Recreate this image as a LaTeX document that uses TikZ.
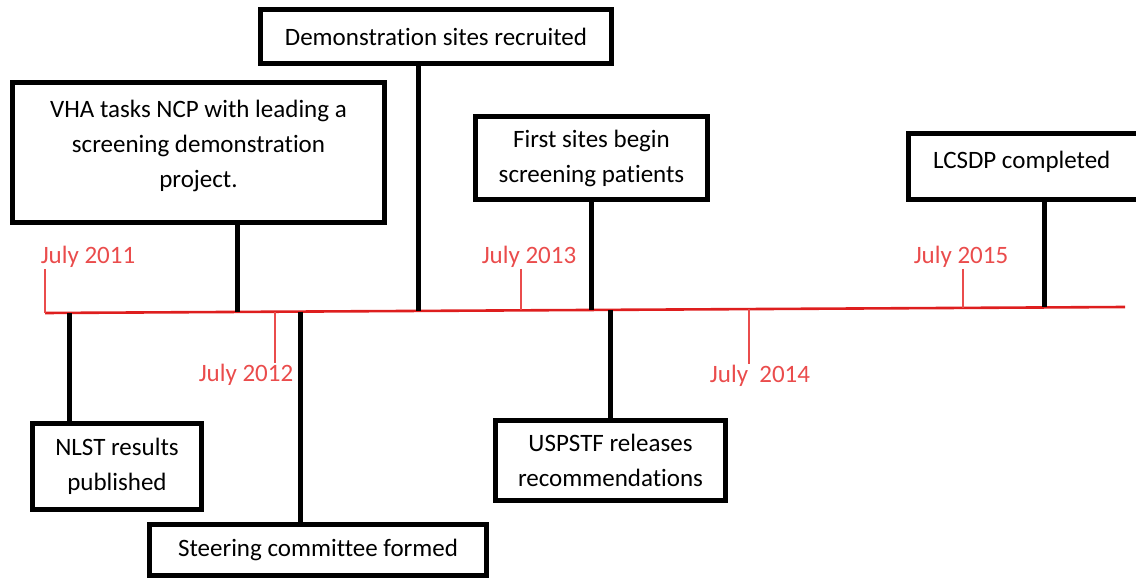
\documentclass[tikz,border=0pt]{standalone}
\usepackage{fontspec}
\setmainfont[Ligatures=NoCommon]{Carlito}
\usetikzlibrary{positioning, calc}

\definecolor{lineRed}{RGB}{222,30,30}
\definecolor{labelRed}{RGB}{234,76,76}

\tikzset{
  event/.style={rectangle, draw, line width=5pt, align=center, inner sep=0pt,
    font=\fontsize{25}{35}\selectfont},
  stem/.style={line width=5pt},
  year/.style={text=labelRed, inner sep=1pt, font=\fontsize{25}{30}\selectfont},
  yeartick/.style={draw=labelRed, line width=1.4pt}
}

\begin{document}
\begin{tikzpicture}[x=1pt, y=-1pt]
\useasboundingbox (0,0) rectangle (1136,580);

% Timeline
\coordinate (start) at (45,313);
\coordinate (end) at (1125,307);
\draw[lineRed, line width=2.6pt] (start) -- (end);

% Points on the timeline
\coordinate (p-nlst) at (69,312.9);
\coordinate (p-vha) at (237,311.9);
\coordinate (p-steer) at (300,311.6);
\coordinate (p-sites) at (418,310.9);
\coordinate (p-first) at (591,310);
\coordinate (p-usp) at (610,309.9);
\coordinate (p-done) at (1044,307.4);
\coordinate (t2012) at (275,311.7);
\coordinate (t2013) at (521,310.4);
\coordinate (t2014) at (749,309.1);
\coordinate (t2015) at (963,307.9);

% Years
\node[year] (y2011) at (88,257) {July 2011};
\node[year] (y2012) at (246,375) {July 2012};
\node[year] (y2013) at (529,257) {July 2013};
\node[year] (y2014) at (760,376) {July~~2014};
\node[year] (y2015) at (961,257) {July 2015};

\draw[yeartick] (y2011.south -| start) -- (start);
\draw[yeartick] (t2012) -- (y2012.north -| t2012);
\draw[yeartick] (y2013.south -| t2013) -- (t2013);
\draw[yeartick] (t2014) -- (y2014.north -| t2014);
\draw[yeartick] (y2015.south -| t2015) -- (t2015);

% Events above the line
\node[event, minimum width=351pt, minimum height=54pt] (sites) at (436,36.5)
  {Demonstration sites recruited};
\node[event, minimum width=372pt, minimum height=140pt, text depth=18pt] (vha) at (198.5,152.5)
  {VHA tasks NCP with leading a\\screening demonstration\\project.};
\node[event, minimum width=232pt, minimum height=83pt] (first) at (591.5,158)
  {First sites begin\\screening patients};
\node[event, minimum width=239pt, minimum height=66pt, text width=190pt, align=flush left, text depth=14pt] (done) at (1028,166.5)
  {LCSDP completed};

% Events below the line
\node[event, minimum width=169pt, minimum height=86pt] (nlst) at (117,466.5)
  {NLST results\\published};
\node[event, minimum width=337pt, minimum height=51pt] (steer) at (318,550)
  {Steering committee formed};
\node[event, minimum width=230pt, minimum height=80pt] (usp) at (610.5,460.5)
  {USPSTF releases\\recommendations};

% Stems
\draw[stem] (sites.south -| p-sites) -- (p-sites);
\draw[stem] (vha.south -| p-vha) -- (p-vha);
\draw[stem] (first.south -| p-first) -- (p-first);
\draw[stem] (done.south -| p-done) -- (p-done);
\draw[stem] (p-nlst) -- (nlst.north -| p-nlst);
\draw[stem] (p-steer) -- (steer.north -| p-steer);
\draw[stem] (p-usp) -- (usp.north -| p-usp);
\end{tikzpicture}
\end{document}
